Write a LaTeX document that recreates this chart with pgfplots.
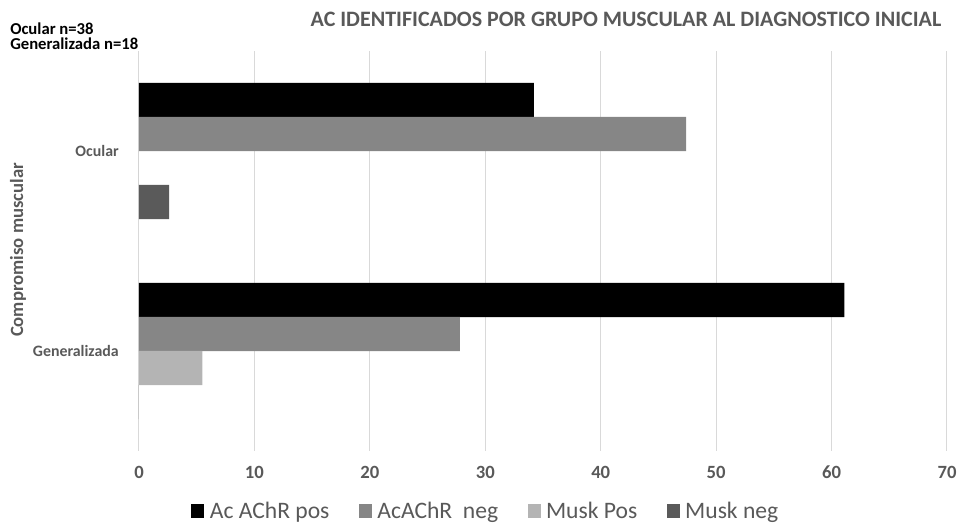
\documentclass[border=0pt]{standalone}
\usepackage{fontspec}
\setmainfont{Carlito}
\usepackage{pgfplots}
\pgfplotsset{compat=1.18}
\definecolor{txt}{HTML}{595959}
\definecolor{gridc}{HTML}{D9D9D9}
\definecolor{cA}{HTML}{000000}
\definecolor{cB}{HTML}{868686}
\definecolor{cC}{HTML}{B4B4B4}
\definecolor{cD}{HTML}{5A5A5A}

\begin{document}
\begin{tikzpicture}
\useasboundingbox (-104.25pt,-54pt) rectangle (616.5pt,338.25pt);
\begin{axis}[
  scale only axis, width=606pt, height=300pt,
  xbar, bar width=0.1715,
  xmin=0, xmax=70, ymin=-0.5, ymax=1.5,
  xtick={0,10,...,70},
  ytick={0,1}, yticklabels={Generalizada,Ocular},
  xmajorgrids, major grid style={gridc, line width=0.75pt},
  axis line style={draw=none},
  major tick length=0pt,
  /pgf/number format/assume math mode=true,
  xticklabel style={font=\fontsize{14}{14}\selectfont\bfseries, text=txt, anchor=center, yshift=-15.75pt},
  yticklabel style={font=\fontsize{11.9}{12}\selectfont\bfseries, text=txt, anchor=east, inner sep=0pt, xshift=-15pt},
  legend style={at={(0.428,-0.15)}, anchor=center, draw=none, fill=none,
    legend columns=4, font=\fontsize{17.7}{18}\selectfont, text=txt,
    nodes={inner sep=0pt},
    /tikz/every even column/.append style={column sep=22pt}},
  legend image code/.code={\fill[#1] (0pt,-4.9pt) rectangle (9.75pt,4.9pt);
    \path (13.9pt,0pt);},
]
% muscle group: 1 = Ocular (n=38), 0 = Generalizada (n=18)
\addplot[fill=cA, draw=none, bar shift=0.255]  coordinates {(34.2,1) (61.1,0)};
\addplot[fill=cB, draw=none, bar shift=0.085]  coordinates {(47.4,1) (27.8,0)};
\addplot[fill=cC, draw=none, bar shift=-0.085] coordinates {(0,1) (5.5,0)};
\addplot[fill=cD, draw=none, bar shift=-0.255] coordinates {(2.6,1) (0,0)};
\legend{Ac AChR pos, AcAChR\ \ neg, Musk Pos, Musk neg}
\end{axis}
% group sizes, top left
\node[anchor=north west, align=left, inner sep=0pt,
      font=\fontsize{12.5}{11.4}\selectfont\bfseries] at (-96.75pt,321.5pt)
      {Ocular n=38\\Generalizada n=18};
\node[anchor=base, font=\fontsize{16.5}{17}\selectfont\bfseries, text=txt] at (365.25pt,318pt) {AC IDENTIFICADOS POR GRUPO MUSCULAR AL DIAGNOSTICO INICIAL};
\node[rotate=90, font=\fontsize{14}{14}\selectfont\bfseries, text=txt] at (-90.75pt,150.75pt) {Compromiso muscular};
\end{tikzpicture}
\end{document}
